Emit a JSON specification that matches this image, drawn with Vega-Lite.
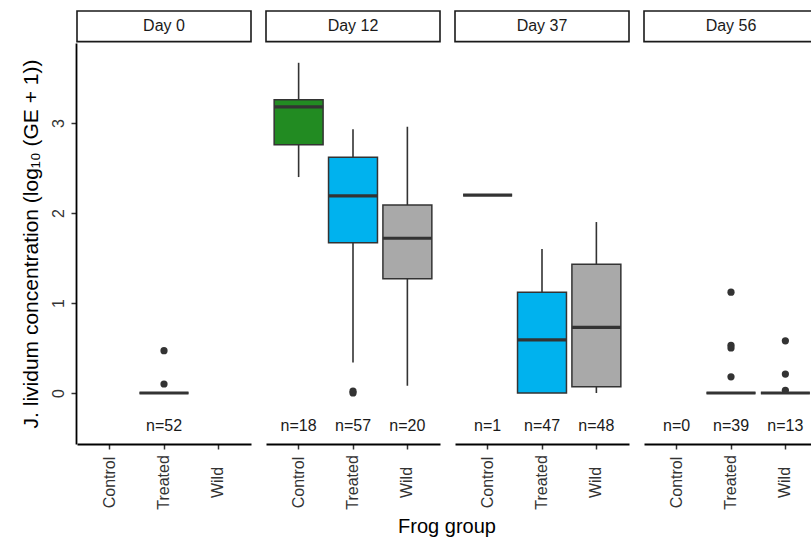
{
  "$schema": "https://vega.github.io/schema/vega-lite/v6.json",
  "autosize": {"type": "pad"},
  "padding": {"left": 20, "top": 10, "right": 0, "bottom": 0},
  "background": "white",
  "config": {
    "font": "Liberation Sans",
    "view": {"stroke": null},
    "axis": {"grid": false, "labelFont": "Liberation Sans", "titleFont": "Liberation Sans"}
  },
  "data": {
    "values": [
      {"kind": "strip", "day": "Day 0"},
      {"kind": "strip", "day": "Day 12"},
      {"kind": "strip", "day": "Day 37"},
      {"kind": "strip", "day": "Day 56"},
      {"kind": "box", "day": "Day 0", "group": "Treated", "lo": 0, "q1": 0, "med": 0, "q3": 0, "hi": 0, "nlab": "n=52"},
      {"kind": "box", "day": "Day 12", "group": "Control", "lo": 2.40, "q1": 2.76, "med": 3.18, "q3": 3.26, "hi": 3.67, "nlab": "n=18"},
      {"kind": "box", "day": "Day 12", "group": "Treated", "lo": 0.34, "q1": 1.67, "med": 2.19, "q3": 2.62, "hi": 2.93, "nlab": "n=57"},
      {"kind": "box", "day": "Day 12", "group": "Wild", "lo": 0.08, "q1": 1.27, "med": 1.72, "q3": 2.09, "hi": 2.96, "nlab": "n=20"},
      {"kind": "box", "day": "Day 37", "group": "Control", "lo": 2.2, "q1": 2.2, "med": 2.2, "q3": 2.2, "hi": 2.2, "nlab": "n=1"},
      {"kind": "box", "day": "Day 37", "group": "Treated", "lo": 0, "q1": 0, "med": 0.59, "q3": 1.12, "hi": 1.60, "nlab": "n=47"},
      {"kind": "box", "day": "Day 37", "group": "Wild", "lo": 0.0, "q1": 0.07, "med": 0.73, "q3": 1.43, "hi": 1.90, "nlab": "n=48"},
      {"kind": "label", "day": "Day 56", "group": "Control", "nlab": "n=0"},
      {"kind": "box", "day": "Day 56", "group": "Treated", "lo": 0, "q1": 0, "med": 0, "q3": 0, "hi": 0, "nlab": "n=39"},
      {"kind": "box", "day": "Day 56", "group": "Wild", "lo": 0, "q1": 0, "med": 0, "q3": 0, "hi": 0, "nlab": "n=13"},
      {"kind": "outlier", "day": "Day 0", "group": "Treated", "value": 0.10},
      {"kind": "outlier", "day": "Day 0", "group": "Treated", "value": 0.47},
      {"kind": "outlier", "day": "Day 12", "group": "Treated", "value": 0.0},
      {"kind": "outlier", "day": "Day 12", "group": "Treated", "value": 0.02},
      {"kind": "outlier", "day": "Day 56", "group": "Treated", "value": 1.12},
      {"kind": "outlier", "day": "Day 56", "group": "Treated", "value": 0.53},
      {"kind": "outlier", "day": "Day 56", "group": "Treated", "value": 0.50},
      {"kind": "outlier", "day": "Day 56", "group": "Treated", "value": 0.18},
      {"kind": "outlier", "day": "Day 56", "group": "Wild", "value": 0.58},
      {"kind": "outlier", "day": "Day 56", "group": "Wild", "value": 0.21},
      {"kind": "outlier", "day": "Day 56", "group": "Wild", "value": 0.03}
    ]
  },
  "facet": {
    "column": {
      "field": "day",
      "type": "nominal",
      "sort": ["Day 0", "Day 12", "Day 37", "Day 56"],
      "header": {
        "title": "Frog group",
        "titleOrient": "bottom",
        "titleFont": "Liberation Sans",
        "titleFontSize": 20,
        "titleFontWeight": "normal",
        "titleColor": "black",
        "titlePadding": -3,
        "labels": false
      }
    }
  },
  "spacing": 13,
  "spec": {
    "width": 174,
    "height": 401,
    "layer": [
      {
        "transform": [{"filter": "datum.kind == 'strip'"}],
        "mark": {"type": "rect", "fill": "white", "stroke": "#1a1a1a", "strokeWidth": 1.6, "clip": false},
        "encoding": {
          "y": {"datum": 3.905, "type": "quantitative"},
          "y2": {"datum": 4.245}
        }
      },
      {
        "transform": [{"filter": "datum.kind == 'strip'"}],
        "mark": {"type": "text", "fontSize": 16, "color": "#1a1a1a", "baseline": "middle", "align": "center"},
        "encoding": {
          "y": {"datum": 4.075, "type": "quantitative"},
          "text": {"field": "day", "type": "nominal"}
        }
      },
      {
        "transform": [{"filter": "datum.kind == 'box'"}],
        "mark": {"type": "rule", "color": "#333333", "strokeWidth": 1.6},
        "encoding": {
          "x": {
            "field": "group",
            "type": "nominal",
            "scale": {"domain": ["Control", "Treated", "Wild"], "paddingInner": 0.1, "paddingOuter": 0.15},
            "axis": {
              "title": null,
              "labelFontSize": 16,
              "labelColor": "#333333",
              "labelAngle": 270,
              "labelAlign": "center",
              "labelBaseline": "middle",
              "labelPadding": 33,
              "tickSize": 5,
              "tickWidth": 1.5,
              "tickColor": "#333333",
              "domainColor": "black",
              "domainWidth": 1.8
            }
          },
          "y": {
            "field": "lo",
            "type": "quantitative",
            "scale": {"domain": [-0.567, 3.89], "nice": false, "zero": false},
            "axis": {
              "title": "J. lividum concentration (log₁₀ (GE + 1))",
              "titleFontSize": 21,
              "titleFontWeight": "normal",
              "titleColor": "black",
              "titlePadding": 9,
              "values": [0, 1, 2, 3],
              "format": "d",
              "labelFontSize": 16,
              "labelColor": "#333333",
              "labelAngle": 270,
              "labelAlign": "center",
              "labelBaseline": "middle",
              "labelPadding": 13,
              "tickSize": 5,
              "tickWidth": 1.5,
              "tickColor": "#333333",
              "domainColor": "black",
              "domainWidth": 1.8
            }
          },
          "y2": {"field": "hi"}
        }
      },
      {
        "transform": [{"filter": "datum.kind == 'box'"}],
        "mark": {"type": "bar", "stroke": "#333333", "strokeWidth": 1.5},
        "encoding": {
          "x": {"field": "group", "type": "nominal"},
          "y": {"field": "q1", "type": "quantitative"},
          "y2": {"field": "q3"},
          "fill": {
            "field": "group",
            "type": "nominal",
            "scale": {"domain": ["Control", "Treated", "Wild"], "range": ["#228B22", "#00B2EE", "#A9A9A9"]},
            "legend": null
          }
        }
      },
      {
        "transform": [{"filter": "datum.kind == 'box'"}],
        "mark": {"type": "tick", "color": "#333333", "size": 49, "thickness": 3.2, "opacity": 1},
        "encoding": {
          "x": {"field": "group", "type": "nominal"},
          "y": {"field": "med", "type": "quantitative"}
        }
      },
      {
        "transform": [{"filter": "datum.kind == 'outlier'"}],
        "mark": {"type": "point", "filled": true, "color": "#333333", "size": 52, "opacity": 1},
        "encoding": {
          "x": {"field": "group", "type": "nominal"},
          "y": {"field": "value", "type": "quantitative"}
        }
      },
      {
        "transform": [{"filter": "datum.kind == 'box' || datum.kind == 'label'"}],
        "mark": {"type": "text", "fontSize": 16, "color": "#1a1a1a", "baseline": "middle"},
        "encoding": {
          "x": {"field": "group", "type": "nominal"},
          "y": {"datum": -0.37, "type": "quantitative"},
          "text": {"field": "nlab", "type": "nominal"}
        }
      }
    ]
  }
}
